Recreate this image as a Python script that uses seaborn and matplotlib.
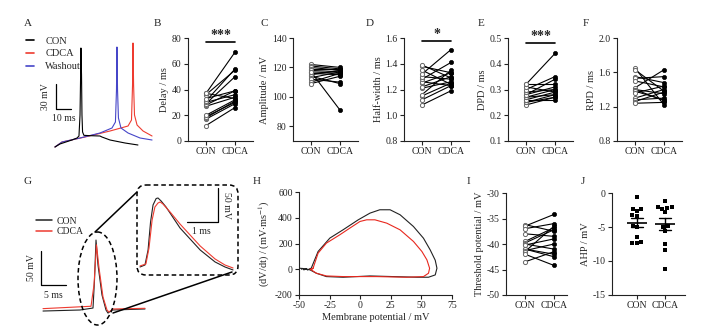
import numpy as np
import pandas as pd
import matplotlib
matplotlib.use("Agg")
import matplotlib.pyplot as plt
import seaborn as sns
from matplotlib.patches import Ellipse, FancyBboxPatch

sns.set_theme(style="ticks")
plt.rcParams["font.family"] = ["Liberation Serif", "DejaVu Serif"]
plt.rcParams["mathtext.fontset"] = "stix"
plt.rcParams["axes.unicode_minus"] = False

# ---------------- data ----------------
conds = ["CON", "CDCA"]

# A: example traces (time ms, membrane potential mV)
a_con_t = [0, 3.3, 7.3, 11.3, 14.7, 16.0, 16.7, 17.1, 17.3, 17.7, 18.0, 18.4, 19.3, 23.3, 30.0, 31.3, 36.7, 46.7, 55.3]
a_con_v = [-70, -66.4, -64, -61.6, -59.2, -56.8, -31.6, 16.4, 48.8, 16.4, -31.6, -52, -56.0, -56.4, -56.8, -58, -61.6, -65.2, -67.6]
a_wash_t = [0, 4.7, 16.7, 30, 38, 40.3, 41.0, 41.3, 41.7, 42.3, 44, 48.7, 56.7, 64.7]
a_wash_v = [-70, -64, -59.2, -53.2, -47.2, -40, -1.6, 50, -1.6, -35.2, -47.2, -53.2, -59.2, -61.6]
a_cdca_t = [0, 4.7, 20, 36.7, 48.7, 51.0, 51.7, 52.0, 52.4, 53.0, 54.7, 58.7, 64.7]
a_cdca_v = [-70, -64, -58, -50.8, -44.8, -37.6, 4.4, 54.8, 4.4, -31.6, -43.6, -50.8, -56.8]

# B-F, I: paired values
delay_con = [12, 17, 18, 19, 20, 27, 28, 29, 30, 31, 33, 36, 37, 37]
delay_cdca = [26, 29, 31, 30, 32, 34, 39, 50, 36, 56, 39, 55, 69, 33]
amp_con = [122, 121, 120, 119, 118, 117, 116, 115, 114, 113, 112, 110, 109, 117]
amp_cdca = [120, 119, 118, 119, 117, 116, 115, 118, 109, 117, 110, 116, 114, 91]
hw_con = [1.08, 1.12, 1.15, 1.16, 1.21, 1.22, 1.25, 1.26, 1.28, 1.30, 1.32, 1.35, 1.38, 1.39]
hw_cdca = [1.19, 1.23, 1.25, 1.35, 1.26, 1.30, 1.33, 1.23, 1.41, 1.28, 1.51, 1.24, 1.33, 1.29]
dpd_con = [0.24, 0.25, 0.25, 0.26, 0.26, 0.27, 0.27, 0.28, 0.28, 0.29, 0.30, 0.31, 0.32, 0.32]
dpd_cdca = [0.27, 0.28, 0.27, 0.29, 0.26, 0.30, 0.28, 0.31, 0.34, 0.30, 0.35, 0.29, 0.44, 0.32]
rpd_con = [1.65, 1.63, 1.55, 1.53, 1.50, 1.42, 1.40, 1.40, 1.38, 1.36, 1.30, 1.28, 1.26, 1.24]
rpd_cdca = [1.22, 1.38, 1.48, 1.55, 1.43, 1.63, 1.35, 1.27, 1.28, 1.44, 1.40, 1.30, 1.37, 1.25]
thr_con = [-36.2, -36.5, -37.0, -38.0, -39.5, -39.8, -40.0, -40.2, -41.0, -41.0, -41.3, -41.5, -42.0, -43.5]
thr_cdca = [-37.5, -34.2, -36.0, -38.5, -36.8, -37.2, -41.0, -39.0, -42.0, -42.5, -40.0, -36.5, -44.2, -41.5]

# J: AHP
ahp_con = [-0.6, -2.3, -2.4, -2.6, -3.3, -3.4, -4.8, -5.0, -6.4, -7.2, -7.3, -7.4]
ahp_cdca = [-1.2, -2.0, -2.1, -2.2, -2.3, -2.8, -4.8, -5.0, -5.6, -7.5, -8.4, -11.2]

# G: averaged AP (ms, mV) and zoomed inset
g_con_t = [0, 7.4, 10.0, 10.3, 10.6, 11.0, 11.8, 12.6, 13.0, 13.8, 20.4]
g_con_v = [-65, -63.5, -60.6, -19.4, 39.4, 2.6, -41.5, -63.5, -68, -63.5, -62]
g_cdca_t = [0, 9.6, 10.2, 10.7, 11.2, 12.0, 12.8, 13.2, 14.0, 20.4]
g_cdca_v = [-61.5, -58, -26.5, 32.4, -1.5, -44.4, -63.5, -66.5, -62, -61]
gi_con_t = [0, 0.16, 0.26, 0.34, 0.42, 0.52, 0.58, 0.68, 0.84, 1.29, 1.94, 2.42, 2.74, 3.0]
gi_con_v = [-65, -62.1, -40, 1.2, 26.2, 35.7, 36.5, 32.1, 23.2, -7.6, -40, -57.6, -65, -69.4]
gi_cdca_t = [0, 0.19, 0.29, 0.39, 0.48, 0.58, 0.65, 0.74, 0.97, 1.29, 1.94, 2.42, 2.74, 3.0]
gi_cdca_v = [-63.5, -60.6, -37.1, 4.1, 23.2, 29.1, 30.6, 27.6, 15.9, -1.8, -34.1, -53.2, -62.1, -66.5]

# H: phase plot (membrane potential mV, dV/dt mV/ms)
h_con_v = [-48, -47, -46, -44, -43, -41, -40, -34.4, -24.8, -13.9, -1.6, 8, 16, 24.4, 32.6, 43.5, 51.7, 57.2,
           61.3, 62.7, 61.3, 55.8, 46.3, 27, 8, -14, -27.6, -35.8, -41, -45, -49.5]
h_con_d = [0, 6, -5, 4, -6, 5, 8, 138, 242, 307, 384, 436, 462, 462, 423, 332, 241, 150,
           70, 8, -44, -62, -62, -57, -52, -62, -57, -31, -5, 4, 8]
h_cdca_v = [-41, -40.5, -39.5, -38.5, -34.4, -27.6, -16.6, -8.4, -0.2, 5.3, 12, 21.7, 32.6, 43.5, 50.4, 54.5,
            56.7, 55.8, 51.7, 38, 13.5, -13.9, -27.6, -35.8, -39.9, -38.5]
h_cdca_d = [2, -4, 5, 8, 125, 203, 268, 320, 371, 384, 384, 358, 306, 216, 138, 73,
            8, -31, -57, -62, -57, -57, -52, -31, -5, 8]

C_RED = "#ee3b30"
C_BLUE = "#4646c8"

# ---------------- figure ----------------
W, H = 703, 329
fig = plt.figure(figsize=(7.03, 3.29), dpi=100)


def px_axes(l, t, r, b):
    return fig.add_axes([l / W, 1 - b / H, (r - l) / W, (b - t) / H])


def style_axes(ax):
    sns.despine(ax=ax)
    for s in ("left", "bottom"):
        ax.spines[s].set_linewidth(0.8)
        ax.spines[s].set_color("#222222")
    ax.tick_params(direction="out", length=3, width=0.8, labelsize=7, pad=1.5, colors="#222222")


def paired(ax, con, cdca, ylim, yticks, ylabel, fmt, xlim=(-0.62, 1.62), sig=None):
    n = len(con)
    df = pd.DataFrame({"x": [0] * n + [1] * n,
                       "y": list(con) + list(cdca),
                       "pair": list(range(n)) * 2,
                       "cond": ["CON"] * n + ["CDCA"] * n})
    sns.lineplot(data=df, x="x", y="y", units="pair", estimator=None, color="black",
                 lw=0.8, ax=ax, legend=False)
    sns.scatterplot(data=df[df.cond == "CON"], x="x", y="y", s=9, facecolor="white",
                    edgecolor="#666666", linewidth=0.7, ax=ax, zorder=3)
    sns.scatterplot(data=df[df.cond == "CDCA"], x="x", y="y", s=9, color="black",
                    edgecolor="black", linewidth=0.5, ax=ax, zorder=3)
    ax.set_xlim(*xlim)
    ax.set_ylim(*ylim)
    ax.set_yticks(yticks)
    ax.set_yticklabels([fmt.format(v) for v in yticks])
    ax.set_xticks([0, 1])
    ax.set_xticklabels(conds)
    ax.set_xlabel("")
    ax.set_ylabel(ylabel, fontsize=7.5, labelpad=2)
    style_axes(ax)
    if sig is not None:
        ybar, stars = sig
        ax.plot([0, 1], [ybar, ybar], color="black", lw=1.2, clip_on=False)
        ax.annotate(stars, xy=(0.5, ybar), xytext=(0, 0), textcoords="offset points",
                    ha="center", va="bottom", fontsize=10, fontweight="bold",
                    annotation_clip=False)


# ---- A ----
axA = px_axes(20, 30, 160, 155)
for t, v, c, lab in [(a_cdca_t, a_cdca_v, C_RED, "CDCA"), (a_wash_t, a_wash_v, C_BLUE, "Washout"),
                     (a_con_t, a_con_v, "black", "CON")]:
    sns.lineplot(x=t, y=v, sort=False, estimator=None, color=c, lw=0.8, ax=axA, label=lab)
axA.set_xlim(-23.3, 70)
axA.set_ylim(-79.6, 70.4)
axA.axis("off")
h, l = axA.get_legend_handles_labels()
order = [2, 0, 1]
legA = axA.legend([h[i] for i in order], [l[i] for i in order], loc="upper left",
                  bbox_to_anchor=(0.04, 0.95), frameon=False, fontsize=7.5, handlelength=0.8,
                  handletextpad=1.1, labelspacing=0.35, borderpad=0, borderaxespad=0)
for ln in legA.get_lines():
    ln.set_linewidth(1.2)
axA.plot([0.67, 0.67, 10.67], [5.6, -24.4, -24.4], color="black", lw=0.9)
axA.text(-3.2, -9.4, "30 mV", rotation=90, ha="right", va="center", fontsize=7)
axA.text(5.7, -30.5, "10 ms", ha="center", va="top", fontsize=7)

# ---- B-F ----
axB = px_axes(188, 38, 253, 141)
paired(axB, delay_con, delay_cdca, (0, 80), [0, 20, 40, 60, 80], "Delay / ms", "{:g}",
       sig=(76.9, "***"))
axC = px_axes(293, 38, 358, 141)
paired(axC, amp_con, amp_cdca, (70, 140), [80, 100, 120, 140], "Amplitude / mV", "{:g}")
axD = px_axes(404, 38, 469, 141)
paired(axD, hw_con, hw_cdca, (0.8, 1.6), [0.8, 1.0, 1.2, 1.4, 1.6], "Half-width / ms", "{:.1f}",
       sig=(1.574, "*"))
axE = px_axes(508, 38, 573, 141)
paired(axE, dpd_con, dpd_cdca, (0.1, 0.5), [0.1, 0.2, 0.3, 0.4, 0.5], "DPD / ms", "{:.1f}",
       sig=(0.482, "***"))
axF = px_axes(617, 38, 682, 141)
paired(axF, rpd_con, rpd_cdca, (0.8, 2.0), [0.8, 1.2, 1.6, 2.0], "RPD / ms", "{:.1f}")

# ---- G ----
axG = px_axes(30, 195, 240, 330)
sns.lineplot(x=g_con_t, y=g_con_v, sort=False, estimator=None, color="#222222", lw=0.8, ax=axG, label="CON")
sns.lineplot(x=g_cdca_t, y=g_cdca_v, sort=False, estimator=None, color=C_RED, lw=0.8, ax=axG, label="CDCA")
axG.set_xlim(-2.6, 39.4)
axG.set_ylim(-92.9, 105.6)
axG.axis("off")
legG = axG.legend(loc="upper left", bbox_to_anchor=(0.029, 0.84), frameon=False, fontsize=7,
                  handlelength=1.6, handletextpad=0.5, labelspacing=0.15, borderpad=0, borderaxespad=0)
for ln in legG.get_lines():
    ln.set_linewidth(1.1)
axG.plot([-0.4, -0.4, 4.6], [23.2, -26.8, -26.8], color="black", lw=0.9)
axG.text(-1.3, -1.8, "50 mV", rotation=90, ha="right", va="center", fontsize=7)
axG.text(2.1, -35.5, "5 ms", ha="center", va="top", fontsize=7)

axGi = px_axes(137, 185, 238, 275)
sns.lineplot(x=gi_con_t, y=gi_con_v, sort=False, estimator=None, color="#222222", lw=0.8, ax=axGi)
sns.lineplot(x=gi_cdca_t, y=gi_cdca_v, sort=False, estimator=None, color=C_RED, lw=0.8, ax=axGi)
axGi.set_xlim(-0.097, 3.16)
axGi.set_ylim(-76.8, 55.6)
axGi.axis("off")
axGi.plot([1.52, 2.52, 2.52], [1.2, 1.2, 51.2], color="black", lw=0.9)
axGi.text(2.66, 26.2, "50 mV", rotation=-90, ha="left", va="center", fontsize=7)
axGi.text(1.97, -6.5, "1 ms", ha="center", va="top", fontsize=7)

# ---- H ----
axH = px_axes(299, 192, 452, 295)
sns.lineplot(x=h_con_v, y=h_con_d, sort=False, estimator=None, color="#222222", lw=0.8, ax=axH)
sns.lineplot(x=h_cdca_v, y=h_cdca_d, sort=False, estimator=None, color="#e8281e", lw=0.8, ax=axH)
axH.set_xlim(-50, 75)
axH.set_ylim(-200, 600)
axH.set_xticks([-50, -25, 0, 25, 50, 75])
axH.set_yticks([-200, 0, 200, 400, 600])
axH.set_xlabel("Membrane potential / mV", fontsize=7.5, labelpad=2)
axH.set_ylabel(r"(dV/dt) / (mV$\cdot$ms$^{-1}$)", fontsize=7.5, labelpad=2)
style_axes(axH)

# ---- I ----
axI = px_axes(506, 193, 567, 295)
paired(axI, thr_con, thr_cdca, (-50, -30), [-50, -45, -40, -35, -30], "Threshold potential / mV",
       "{:g}", xlim=(-0.655, 1.45))

# ---- J ----
axJ = px_axes(612, 193, 685, 295)
dfJ = pd.DataFrame({"cond": ["CON"] * len(ahp_con) + ["CDCA"] * len(ahp_cdca),
                    "AHP": ahp_con + ahp_cdca})
sns.swarmplot(data=dfJ, x="cond", y="AHP", order=conds, color="black", marker="s", size=3.2,
              linewidth=0, ax=axJ)
sns.pointplot(data=dfJ, x="cond", y="AHP", order=conds, errorbar="se", capsize=0.45,
              color="black", markers="_", markersize=14, markeredgewidth=1.2,
              linestyle="none", err_kws={"linewidth": 1.0}, ax=axJ)
axJ.set_xlim(-0.89, 1.71)
axJ.set_ylim(-15, 0)
axJ.set_yticks([-15, -10, -5, 0])
axJ.set_xlabel("")
axJ.set_ylabel("AHP / mV", fontsize=7.5, labelpad=2)
style_axes(axJ)

# ---- overlay: zoom decorations for G ----
ov = fig.add_axes([0, 0, 1, 1], zorder=10)
ov.set_xlim(0, W)
ov.set_ylim(H, 0)
ov.axis("off")
ov.patch.set_alpha(0)
ov.add_patch(Ellipse((97.5, 278.5), 39, 93, fill=False, ls=(0, (3, 2)), lw=1.1, color="black"))
ov.add_patch(FancyBboxPatch((137, 185), 101, 90, boxstyle="round,pad=0,rounding_size=9",
                            fill=False, ls=(0, (3, 2)), lw=1.1, ec="black"))
ov.plot([95, 137], [232, 192], color="black", lw=1.1)
ov.plot([113, 232], [313, 272], color="black", lw=1.1)

# ---- panel letters ----
for lab, x, y in [("A", 28, 23), ("B", 157, 23), ("C", 264, 23), ("D", 370, 23), ("E", 481, 23),
                  ("F", 586, 23), ("G", 28, 182), ("H", 257, 182), ("I", 468, 182), ("J", 583, 182)]:
    fig.text(x / W, 1 - y / H, lab, ha="center", va="center", fontsize=8)

fig.savefig("out.png", dpi=100, facecolor="white")
